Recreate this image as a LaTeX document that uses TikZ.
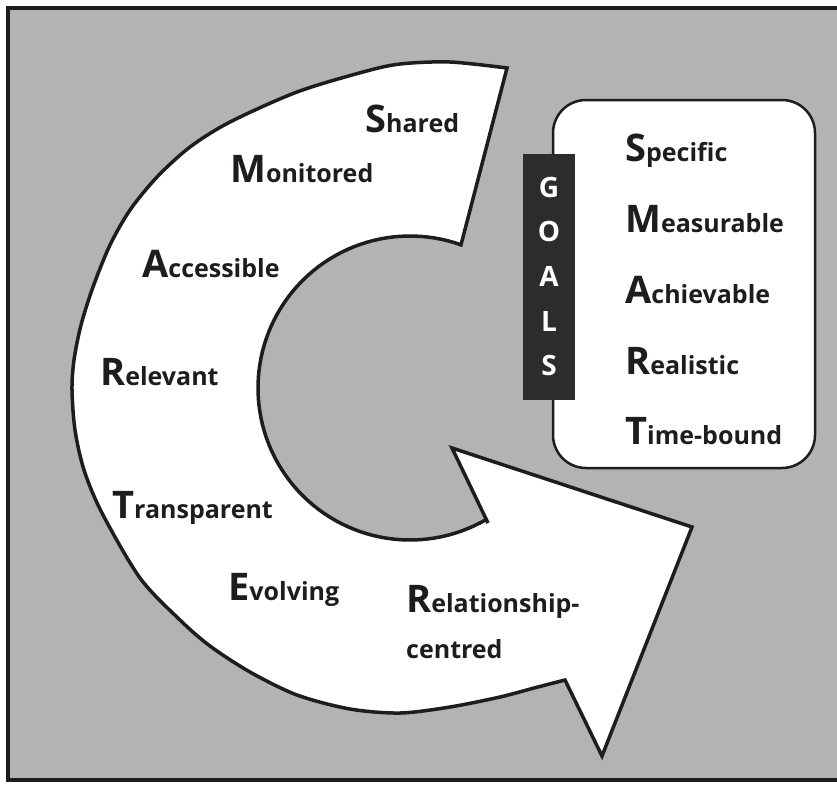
\documentclass[tikz,border=0pt]{standalone}
\usepackage{fontspec}
\setmainfont{Open Sans}
\definecolor{bg}{RGB}{178,179,181}
\definecolor{ink}{RGB}{30,28,29}
\definecolor{barcol}{RGB}{45,43,44}
\newcommand\acro[2]{{\fontsize{38}{40}\selectfont #1}{\fontsize{25}{28}\selectfont #2}}
\begin{document}
\begin{tikzpicture}[x=1pt,y=-1pt,
  word/.style={anchor=base west, inner sep=0pt, text=ink, font=\bfseries},
  goal/.style={anchor=center, inner sep=0pt, text=white, font=\bfseries\fontsize{28}{30}\selectfont},
  outline/.style={draw=ink, line width=3.5pt, fill=white, line join=miter}]
\useasboundingbox (0,0) rectangle (837,785);
\fill[white] (0,0) rectangle (837,785);
\fill[bg] (8,8) rectangle (837,780);
\draw[ink, line width=4pt] (840,8) -- (8,8) -- (8,780) -- (840,780);
% big curved arrow
\path[outline]
  (452,448) -- (488,523)
  -- plot[domain=60:289.6, samples=90] ({410+152*cos(\x)},{388+152*sin(\x)})
  -- (507,68)
  -- plot[smooth] coordinates {(507,68) (450,62) (400,64) (363,72) (297,92) (230,122) (190,147) (157,177) (130,210) (110,245) (93,287) (81,325) (74,360) (72,390) (75,430) (84,470) (102,513) (140,578) (180,620) (210,646) (250,672) (297,695) (350,709) (400,713) (450,707) (500,697) (534,688) (565,680)}
  -- (602,756) -- (692,527) -- cycle;
% words on arrow
\node[word] (shared) at (365,132) {\acro{S}{hared}};
\node[word] (monitored) at (230,182) {\acro{M}{onitored}};
\node[word] (accessible) at (142,277) {\acro{A}{ccessible}};
\node[word] (relevant) at (100,385) {\acro{R}{elevant}};
\node[word] (transparent) at (112,518) {\acro{T}{ransparent}};
\node[word] (evolving) at (228,600) {\acro{E}{volving}};
\node[word] (relationship) at (406,612) {\acro{R}{elationship-}};
\node[word] (centred) at (406,658) {\fontsize{25}{28}\selectfont centred};
% SMART box
\draw[ink, line width=2.5pt, fill=white, rounded corners=33pt] (553,100) rectangle (815,468);
\fill[barcol] (523,154) rectangle (575,400);
\node[goal] (g) at (549,187) {G};
\node[goal] (o) at (549,231) {O};
\node[goal] (a) at (549,276) {A};
\node[goal] (l) at (549,321) {L};
\node[goal] (s) at (549,365) {S};
\node[word] (specific) at (625,161) {\acro{S}{pecific}};
\node[word] (measurable) at (625,232) {\acro{M}{easurable}};
\node[word] (achievable) at (625,303) {\acro{A}{chievable}};
\node[word] (realistic) at (625,374) {\acro{R}{ealistic}};
\node[word] (timebound) at (625,444) {\acro{T}{ime-bound}};
\end{tikzpicture}
\end{document}
